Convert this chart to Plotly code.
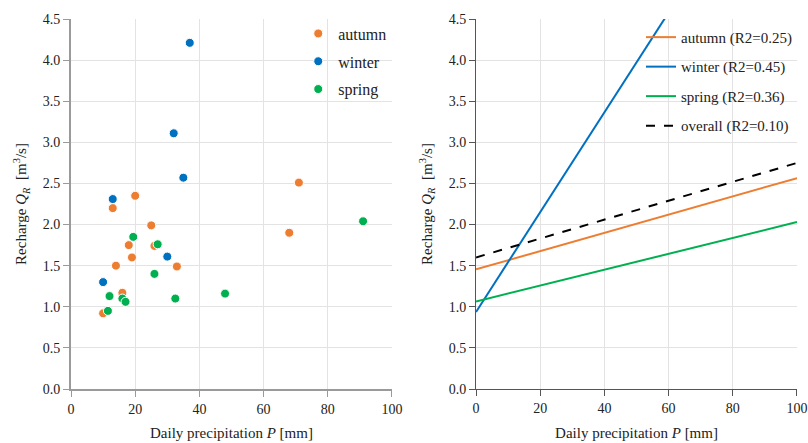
import plotly.graph_objects as go
from plotly.subplots import make_subplots

# ---- data ----
autumn_p = [71, 20, 13, 25, 68, 18, 26, 19, 14, 33, 16, 10]
autumn_q = [2.51, 2.35, 2.20, 1.99, 1.90, 1.75, 1.74, 1.60, 1.50, 1.49, 1.17, 0.92]
winter_p = [37, 32, 35, 13, 30, 10]
winter_q = [4.21, 3.11, 2.57, 2.31, 1.61, 1.30]
spring_p = [91, 19.4, 27, 26, 48, 12, 32.5, 16, 17, 11.5]
spring_q = [2.04, 1.85, 1.76, 1.40, 1.16, 1.13, 1.10, 1.10, 1.06, 0.95]

series_names = ["autumn", "winter", "spring", "overall"]
fit_intercept = [1.455, 0.937, 1.065, 1.60]
fit_slope = [0.0111, 0.0607, 0.00965, 0.0115]
fit_r2 = ["0.25", "0.45", "0.36", "0.10"]
fit_x = [0, 100]

x_ticks = [0, 20, 40, 60, 80, 100]
y_ticks = [0.0, 0.5, 1.0, 1.5, 2.0, 2.5, 3.0, 3.5, 4.0, 4.5]

colors = {"autumn": "#ED7D31", "winter": "#0070C0", "spring": "#00B050", "overall": "#000000"}
FONT = "Liberation Serif"

fig = make_subplots(rows=1, cols=2, horizontal_spacing=0.1158)

scatter_data = [("autumn", autumn_p, autumn_q), ("winter", winter_p, winter_q), ("spring", spring_p, spring_q)]
for name, xs, ys in scatter_data:
    fig.add_trace(go.Scatter(
        x=xs, y=ys, mode="markers", name=name,
        marker=dict(size=9, color=colors[name], line=dict(color="white", width=1)),
        legend="legend", legendgroup="s_" + name,
    ), row=1, col=1)

for i, name in enumerate(series_names):
    ys = [fit_intercept[i] + fit_slope[i] * x for x in fit_x]
    fig.add_trace(go.Scatter(
        x=fit_x, y=ys, mode="lines", name=f"{name} (R2={fit_r2[i]})",
        line=dict(color=colors[name], width=2, dash="dash" if name == "overall" else "solid"),
        legend="legend2", legendgroup="l_" + name,
    ), row=1, col=2)

axis_common = dict(
    showgrid=True, gridcolor="#E3E3E3", gridwidth=1, automargin=False,
    zeroline=False, showline=True, ticks="outside", ticklen=6,
    tickfont=dict(family=FONT, size=14, color="#222"),
)
ytitle = dict(text="Recharge <i>Q</i><sub><i>R</i></sub>  [m<sup>3</sup>/s]", font=dict(family=FONT, size=15, color="#222"), standoff=12)
xtitle = dict(text="Daily precipitation <i>P</i> [mm]", font=dict(family=FONT, size=15, color="#222"), standoff=12)

for col, lc, lw in [(1, "#9A9A9A", 2), (2, "#555555", 1)]:
    fig.update_xaxes(range=[0, 100], tickvals=x_ticks, title=xtitle, linecolor=lc, linewidth=lw, tickcolor=lc,
                     **axis_common, row=1, col=col)
    fig.update_yaxes(range=[0, 4.5], tickvals=y_ticks, tickformat=".1f", title=ytitle, linecolor=lc, linewidth=lw,
                     tickcolor=lc, **axis_common, row=1, col=col)

fig.update_layout(
    width=808, height=443,
    margin=dict(l=71, r=11, t=19, b=54),
    paper_bgcolor="white", plot_bgcolor="white",
    font=dict(family=FONT, size=14, color="#222"),
    showlegend=True,
    legend=dict(x=0.313, y=0.885, xanchor="left", yanchor="middle", bgcolor="rgba(0,0,0,0)",
                font=dict(family=FONT, size=16, color="#222"), tracegroupgap=4, itemwidth=30,
                traceorder="grouped"),
    legend2=dict(x=1.0, y=0.8314, xanchor="right", yanchor="middle", bgcolor="rgba(0,0,0,0)",
                 font=dict(family=FONT, size=15, color="#222"), tracegroupgap=7, itemwidth=30,
                 traceorder="grouped"),
)

fig.write_html("out.html", config={"displayModeBar": False},
               post_script="document.body.style.margin='0';document.body.style.overflow='hidden';")
